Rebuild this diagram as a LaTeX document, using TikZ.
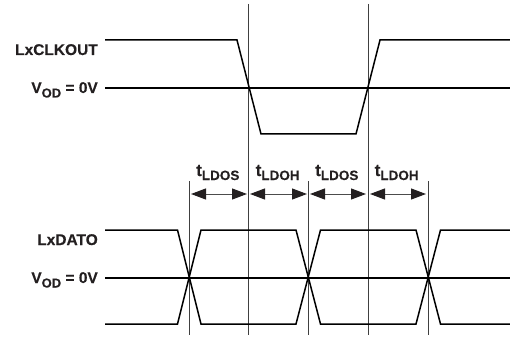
\documentclass[tikz,border=0pt]{standalone}
\usepackage{fontspec}
\setmainfont{Liberation Sans}[BoldFeatures={FakeBold=0.25}]
\usetikzlibrary{arrows.meta}
\definecolor{txt}{HTML}{231F20}
\tikzset{
  x=1pt,y=-1pt,
  wave/.style={line width=1.5pt,black,line join=miter},
  guide/.style={line width=1pt,black!75},
  lbl/.style={anchor=base east,inner sep=0pt,text=txt,font=\fontsize{15.5}{18}\selectfont\bfseries},
  tlbl/.style={anchor=base west,inner sep=0pt,text=txt,font=\fontsize{17}{18}\selectfont\bfseries},
  span/.style={line width=1pt,black!70,{Triangle[length=15pt,width=11pt,fill=txt,color=txt]}-{Triangle[length=15pt,width=11pt,fill=txt,color=txt]}},
}
\newcommand{\lsub}[1]{\raisebox{-4.5pt}{\fontsize{13}{15}\selectfont #1}}
\newcommand{\tsub}[1]{\raisebox{-4pt}{\fontsize{13.5}{15}\selectfont #1}}
\begin{document}
\begin{tikzpicture}
\useasboundingbox (0,0) rectangle (510,339);
% guides
\coordinate (g1t) at (189.5,181); \coordinate (g1b) at (189.5,335);
\coordinate (g2t) at (248.5,4);   \coordinate (g2b) at (248.5,335);
\coordinate (g3t) at (308,181);   \coordinate (g3b) at (308,335);
\coordinate (g4t) at (368,4);     \coordinate (g4b) at (368,335);
\coordinate (g5t) at (428,181);   \coordinate (g5b) at (428,335);
\draw[guide] (g1t) -- (g1b);
\draw[guide] (g2t) -- (g2b);
\draw[guide] (g3t) -- (g3b);
\draw[guide] (g4t) -- (g4b);
\draw[guide] (g5t) -- (g5b);
% waveforms
\draw[wave] (105,40) -- (237,40) -- (261,134) -- (356,134) -- (380,40) -- (510,40);
\draw[wave] (105,88) -- (510,88);
\draw[wave] (105,230) -- (177.5,230) -- (201,324) -- (296,324) -- (320.5,230) -- (416,230) -- (440.5,324) -- (510,324);
\draw[wave] (105,324) -- (177.5,324) -- (201,230) -- (296,230) -- (320.5,324) -- (416,324) -- (440.5,230) -- (510,230);
\draw[wave] (105,278) -- (510,278);
% spans
\coordinate (a1) at (191,194); \coordinate (a2) at (247,194);
\coordinate (a3) at (250,194); \coordinate (a4) at (307,194);
\coordinate (a5) at (310,194); \coordinate (a6) at (366,194);
\coordinate (a7) at (370,194); \coordinate (a8) at (426,194);
\draw[span] (a1) -- (a2);
\draw[span] (a3) -- (a4);
\draw[span] (a5) -- (a6);
\draw[span] (a7) -- (a8);
% labels
\node[lbl] (l1) at (98,55) {LxCLKOUT};
\node[lbl] (l2) at (98,93) {V\lsub{OD} = 0V};
\node[lbl] (l3) at (98,245) {LxDATO};
\node[lbl] (l4) at (98,283) {V\lsub{OD} = 0V};
\node[tlbl] (t1) at (196,176) {t\tsub{LDOS}};
\node[tlbl] (t2) at (255.5,176) {t\tsub{LDOH}};
\node[tlbl] (t3) at (315,176) {t\tsub{LDOS}};
\node[tlbl] (t4) at (374.5,176) {t\tsub{LDOH}};
\end{tikzpicture}
\end{document}
